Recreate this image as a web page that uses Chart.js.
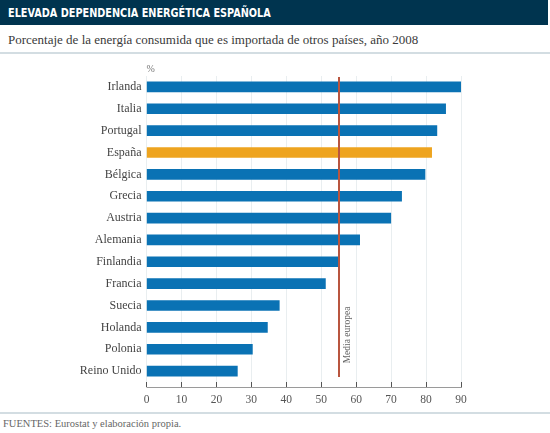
<!DOCTYPE html>
<html>
<head>
<meta charset="utf-8">
<script src="https://cdn.jsdelivr.net/npm/chart.js@4"></script>
<style>
  html, body { margin:0; padding:0; background:#fff; }
  body { width:550px; height:433px; position:relative; overflow:hidden; font-family:"Liberation Serif", serif; }
  .head { position:absolute; left:0; top:0; width:548px; height:25px; background:#00344f; }
  .head span { position:absolute; left:8px; top:5px; color:#fff; font:bold 13px "DejaVu Sans Condensed", "DejaVu Sans", sans-serif; transform:scaleX(0.83); transform-origin:left center; white-space:nowrap; }
  .sub { position:absolute; left:8px; top:32px; font-size:13px; color:#3a3a3a; }
  .rule { position:absolute; left:0; width:550px; height:2px; background:#d3dde2; }
  .foot { position:absolute; left:3px; top:418px; font-size:10.5px; color:#666; }
  .wrap { position:absolute; left:0; top:60px; width:550px; height:345px; }
</style>
</head>
<body>
<div class="head"><span>ELEVADA DEPENDENCIA ENERGÉTICA ESPAÑOLA</span></div>
<div class="sub">Porcentaje de la energía consumida que es importada de otros países, año 2008</div>
<div class="rule" style="top:52px"></div>
<div class="wrap"><canvas id="chart"></canvas></div>
<div class="rule" style="top:412px"></div>
<div class="foot">FUENTES: Eurostat y elaboración propia.</div>
<script>
// datos (%)
const paises = ['Irlanda','Italia','Portugal','España','Bélgica','Grecia','Austria','Alemania','Finlandia','Francia','Suecia','Holanda','Polonia','Reino Unido'];
const dependencia = [90, 85.6, 83.1, 81.6, 79.7, 73.0, 69.9, 61.0, 55.0, 51.2, 38.0, 34.6, 30.3, 26.0];
const mediaEuropea = 55.2;
const ticksX = [0,10,20,30,40,50,60,70,80,90];

const AZUL = '#0a72b4', NARANJA = '#eea41f';
const colores = paises.map(p => p === 'España' ? NARANJA : AZUL);

// linea de la media europea + eje inferior
const extras = {
  id: 'extras',
  afterDatasetsDraw(c){
    const {ctx, chartArea:a, scales:{x}} = c;
    ctx.save();
    // eje horizontal bajo las marcas
    ctx.strokeStyle = '#9a9a9a'; ctx.lineWidth = 1;
    ctx.beginPath(); ctx.moveTo(a.left, a.bottom + 5.5); ctx.lineTo(a.right + 1, a.bottom + 5.5); ctx.stroke();
    // media europea
    const px = Math.round(x.getPixelForValue(mediaEuropea));
    ctx.strokeStyle = '#b9553f'; ctx.lineWidth = 2;
    ctx.beginPath(); ctx.moveTo(px, a.top + 1); ctx.lineTo(px, a.bottom - 5); ctx.stroke();
    ctx.translate(px + 8, a.bottom - 47);
    ctx.rotate(-Math.PI/2);
    ctx.fillStyle = '#666'; ctx.font = '9.5px "Liberation Serif"';
    ctx.textAlign = 'center'; ctx.textBaseline = 'middle';
    ctx.fillText('Media europea', 0, 0);
    ctx.restore();
    // simbolo %
    ctx.save();
    ctx.fillStyle = '#777'; ctx.font = '10px "Liberation Serif"';
    ctx.textAlign = 'left'; ctx.textBaseline = 'middle';
    ctx.fillText('%', a.left + 0, a.top - 7);
    ctx.restore();
  }
};

new Chart(document.getElementById('chart'), {
  type: 'bar',
  data: {
    labels: paises,
    datasets: [{ data: dependencia, backgroundColor: colores, barThickness: 10, borderWidth: 0 }]
  },
  plugins: [extras],
  options: {
    indexAxis: 'y',
    responsive: true,
    maintainAspectRatio: false,
    animation: false,
    layout: { padding: { top: 16, right: 89, left: 0, bottom: 0 } },
    plugins: { legend: { display: false }, tooltip: { enabled: false } },
    scales: {
      x: {
        min: 0, max: 90,
        afterBuildTicks: s => { s.ticks = ticksX.map(v => ({ value: v })); },
        grid: { color: '#e9eef0', tickColor: '#555', tickLength: 5 },
        border: { display: false },
        ticks: { color: '#555', padding: 6, font: { family: 'Liberation Serif', size: 11.5 } },
        afterFit: s => { s.height = 23; }
      },
      y: {
        grid: { display: false, drawTicks: false },
        border: { display: false },
        ticks: { color: '#444', padding: 5, font: { family: 'Liberation Serif', size: 12 } },
        afterFit: s => { s.width = 146.5; }
      }
    }
  }
});
</script>
</body>
</html>
